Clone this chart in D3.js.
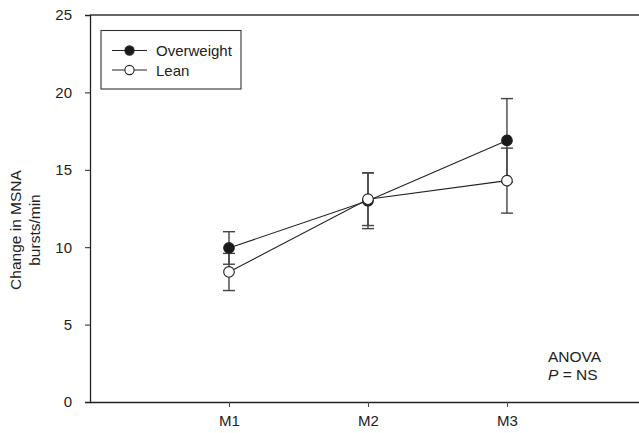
<!DOCTYPE html>
<html>
<head>
<meta charset="utf-8">
<script src="https://cdn.jsdelivr.net/npm/d3@7"></script>
<style>
  body { margin: 0; background: #fff; }
  svg { display: block; font-family: "Liberation Sans", Arial, sans-serif; }
</style>
</head>
<body>
<svg id="chart" width="639" height="433"></svg>
<script>
// data
const categories = ["M1", "M2", "M3"];
const overweightMean = [9.95, 13.0, 16.9];
const overweightErr = [1.05, 1.8, 2.7];
const leanMean = [8.4, 13.1, 14.3];
const leanErr = [1.2, 1.7, 2.1];
const yTicks = [0, 5, 10, 15, 20, 25];

const series = [
    {name: "Overweight", mean: overweightMean, err: overweightErr, fill: "#1a1a1a"},
    {name: "Lean", mean: leanMean, err: leanErr, fill: "#fff"}
];

const width = 639, height = 433;
const plotLeft = 90, plotTop = 15, plotBottom = 402;
const fontSize = "15px";

const svg = d3.select("#chart");

// x: categories sit at 1, 2, 3
const x = d3.scaleLinear()
    .domain([0, 3.95])
    .range([plotLeft, width]);

const y = d3.scaleLinear()
    .domain([0, 25])
    .range([plotBottom, plotTop]);

// y axis
const yAxis = svg.append("g")
    .attr("transform", `translate(${plotLeft},0)`)
    .call(d3.axisLeft(y).tickValues(yTicks).tickSize(5).tickPadding(13));
yAxis.select(".domain").attr("stroke", "#222").attr("stroke-width", 1.3);
yAxis.selectAll(".tick line").attr("stroke", "#222");
yAxis.selectAll("text").attr("fill", "#222").style("font-size", fontSize);

// x axis
const xAxis = svg.append("g")
    .attr("transform", `translate(0,${plotBottom})`)
    .call(d3.axisBottom(x).tickValues([1, 2, 3])
        .tickFormat(d => categories[d - 1]).tickSize(5).tickSizeOuter(0).tickPadding(8));
xAxis.select(".domain").attr("stroke", "#222").attr("stroke-width", 1.6);
xAxis.selectAll(".tick line").attr("stroke", "#444");
xAxis.selectAll("text").attr("fill", "#222").style("font-size", fontSize);

// top frame line
svg.append("line")
    .attr("x1", plotLeft).attr("x2", width)
    .attr("y1", y(25)).attr("y2", y(25))
    .attr("stroke", "#333").attr("stroke-width", 1.3);

// connecting lines
const line = d3.line()
    .x((d, i) => x(i + 1))
    .y(d => y(d));

series.forEach(s => {
    svg.append("path")
        .datum(s.mean)
        .attr("d", line)
        .attr("fill", "none")
        .attr("stroke", "#222")
        .attr("stroke-width", 1.1);
});

// error bars
series.forEach(s => {
    const g = svg.append("g").attr("stroke", "#444").attr("stroke-width", 1.4);
    s.mean.forEach((m, i) => {
        const cx = x(i + 1);
        g.append("line")
            .attr("x1", cx).attr("x2", cx)
            .attr("y1", y(m - s.err[i])).attr("y2", y(m + s.err[i]));
        [m - s.err[i], m + s.err[i]].forEach(v => {
            g.append("line")
                .attr("x1", cx - 6).attr("x2", cx + 6)
                .attr("y1", y(v)).attr("y2", y(v));
        });
    });
});

// markers
series.forEach(s => {
    svg.append("g")
        .selectAll("circle")
        .data(s.mean)
        .enter()
        .append("circle")
        .attr("cx", (d, i) => x(i + 1))
        .attr("cy", d => y(d))
        .attr("r", 5.3)
        .attr("fill", s.fill)
        .attr("stroke", "#222")
        .attr("stroke-width", 1.1);
});

// legend
const legend = svg.append("g");
legend.append("rect")
    .attr("x", 101).attr("y", 30.5)
    .attr("width", 140).attr("height", 58.5)
    .attr("fill", "#fff").attr("stroke", "#333").attr("stroke-width", 1.1);

series.forEach((s, i) => {
    const ly = 50.5 + i * 19.5;
    legend.append("line")
        .attr("x1", 112).attr("x2", 147)
        .attr("y1", ly).attr("y2", ly)
        .attr("stroke", "#222").attr("stroke-width", 1.1);
    legend.append("circle")
        .attr("cx", 129.5).attr("cy", ly).attr("r", 4.6)
        .attr("fill", s.fill).attr("stroke", "#222").attr("stroke-width", 1.1);
    legend.append("text")
        .attr("x", 156).attr("y", ly + 5.5)
        .attr("fill", "#222")
        .style("font-size", fontSize)
        .text(s.name);
});

// y axis label
svg.append("text")
    .attr("transform", "translate(21,230) rotate(-90)")
    .attr("text-anchor", "middle")
    .attr("fill", "#222")
    .style("font-size", "15.5px")
    .text("Change in MSNA");
svg.append("text")
    .attr("transform", "translate(40,230) rotate(-90)")
    .attr("text-anchor", "middle")
    .attr("fill", "#222")
    .style("font-size", "15.5px")
    .text("bursts/min");

// ANOVA note
svg.append("text")
    .attr("x", 548).attr("y", 361.5)
    .attr("fill", "#222")
    .style("font-size", "15.5px")
    .text("ANOVA");
const p = svg.append("text")
    .attr("x", 548).attr("y", 380)
    .attr("fill", "#222")
    .style("font-size", "15.5px");
p.append("tspan").style("font-style", "italic").text("P");
p.append("tspan").text(" = NS");
</script>
</body>
</html>
